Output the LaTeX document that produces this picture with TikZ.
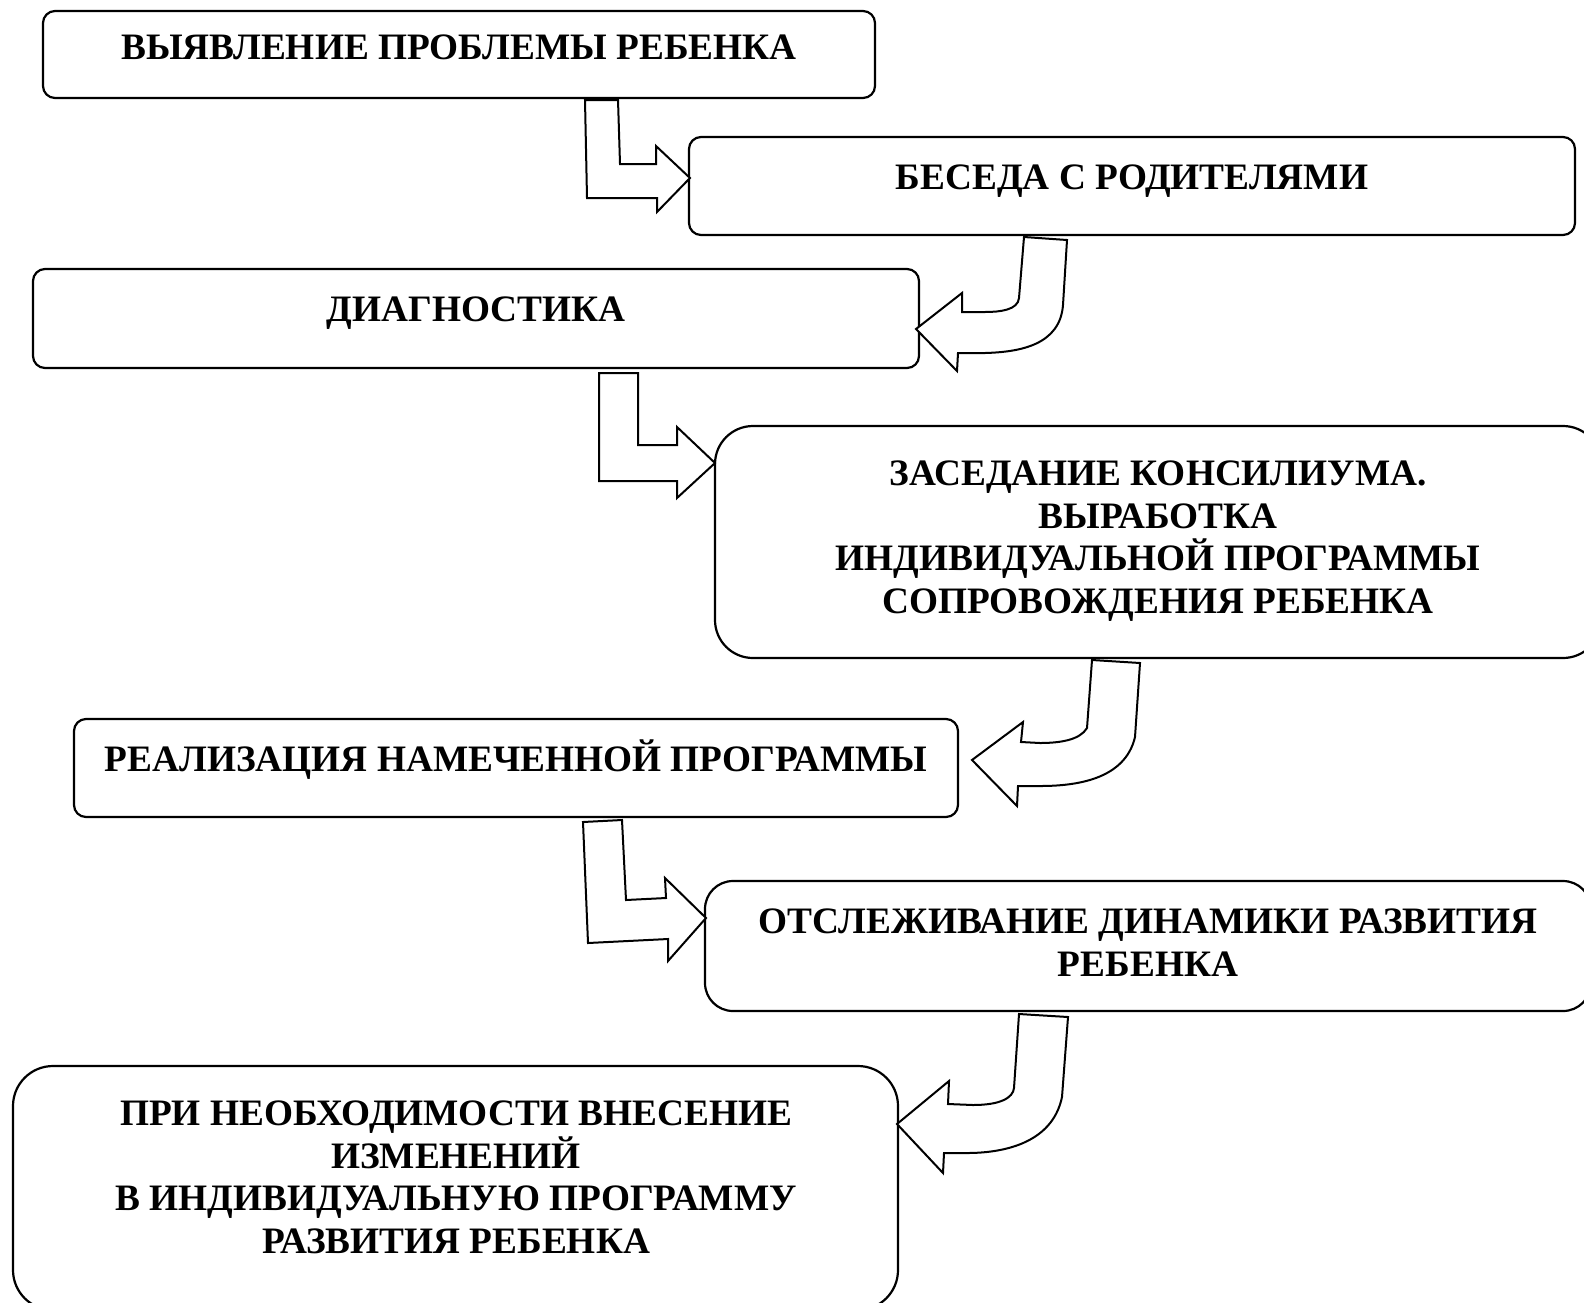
\documentclass[tikz,border=0pt]{standalone}
\usepackage{fontspec}
\setmainfont{Liberation Serif}
\begin{document}
\begin{tikzpicture}[x=1pt,y=-1pt,
  box/.style={draw=black, line width=2.2pt, fill=white, inner sep=0pt, rounded corners=#1},
  box/.default=12pt,
  lbl/.style={anchor=base, align=center, inner sep=0pt, font=\bfseries\fontsize{37.3}{42.5}\selectfont},
  blockarrow/.style={draw=black, line width=2pt, fill=white, line join=miter}]
\useasboundingbox (0,0) rectangle (1584,1302);
\clip (0,0) rectangle (1584,1302);
\fill[white] (0,0) rectangle (1584,1302);
% boxes
\node[box, minimum width=832pt, minimum height=87pt] (b1) at (459,54.5) {};
\node[box, minimum width=886pt, minimum height=98pt] (b2) at (1132,186) {};
\node[box, minimum width=886pt, minimum height=99pt] (b3) at (476,318.5) {};
\node[box=38pt, minimum width=886pt, minimum height=232pt] (b4) at (1158,542) {};
\node[box, minimum width=884pt, minimum height=98pt] (b5) at (516,768) {};
\node[box=28pt, minimum width=886pt, minimum height=130pt] (b6) at (1148,946) {};
\node[box=40pt, minimum width=885pt, minimum height=244pt] (b7) at (455.5,1188) {};
% texts (anchor base = baseline of the last line)
\node[lbl] (t1) at (459,59) {ВЫЯВЛЕНИЕ ПРОБЛЕМЫ РЕБЕНКА};
\node[lbl] (t2) at (1132,189) {БЕСЕДА С РОДИТЕЛЯМИ};
\node[lbl] (t3) at (476,321) {ДИАГНОСТИКА};
\node[lbl] (t4) at (1158,613) {ЗАСЕДАНИЕ КОНСИЛИУМА.\\ВЫРАБОТКА\\ИНДИВИДУАЛЬНОЙ ПРОГРАММЫ\\СОПРОВОЖДЕНИЯ РЕБЕНКА};
\node[lbl] (t5) at (516,771) {РЕАЛИЗАЦИЯ НАМЕЧЕННОЙ ПРОГРАММЫ};
\node[lbl] (t6) at (1148,976) {ОТСЛЕЖИВАНИЕ ДИНАМИКИ РАЗВИТИЯ\\РЕБЕНКА};
\node[lbl] (t7) at (456,1253) {ПРИ НЕОБХОДИМОСТИ ВНЕСЕНИЕ\\ИЗМЕНЕНИЙ\\В ИНДИВИДУАЛЬНУЮ ПРОГРАММУ\\РАЗВИТИЯ РЕБЕНКА};
% block arrows
\draw[blockarrow] (585,100) -- (618,100) -- (620,164) -- (656,164) -- (656,146) -- (690,178) -- (657,212) -- (657,198) -- (587,198) -- cycle;
\draw[blockarrow] (1024,237) -- (1067,240) -- (1063,305) .. controls (1060,345) and (1020,352) .. (985,353) -- (958,353) -- (957,371) -- (916,329) -- (962,293) -- (962,312) -- (985,312) .. controls (1000,312) and (1018,310) .. (1019,298) -- cycle;
\draw[blockarrow] (599,373) -- (638,373) -- (638,445) -- (677,445) -- (677,427) -- (715,463) -- (677,498) -- (677,481) -- (599,481) -- cycle;
\draw[blockarrow] (1092,660) -- (1140,663) -- (1135,737) .. controls (1125,780) and (1075,786) .. (1040,786) -- (1018,786) -- (1017,806) -- (972,760) -- (1023,722) -- (1021,742) -- (1040,743) .. controls (1060,743) and (1080,740) .. (1087,728) -- cycle;
\draw[blockarrow] (583,822) -- (622,820) -- (626,900) -- (666,898) -- (665,878) -- (706,918) -- (668,961) -- (668,939) -- (588,943) -- cycle;
\draw[blockarrow] (1019,1014) -- (1068,1017) -- (1062,1097) .. controls (1052,1145) and (1000,1153) .. (967,1153) -- (944,1153) -- (943,1173) -- (897,1124) -- (949,1081) -- (948,1104) -- (973,1105) .. controls (1000,1105) and (1013,1098) .. (1014,1088) -- cycle;
\end{tikzpicture}
\end{document}
